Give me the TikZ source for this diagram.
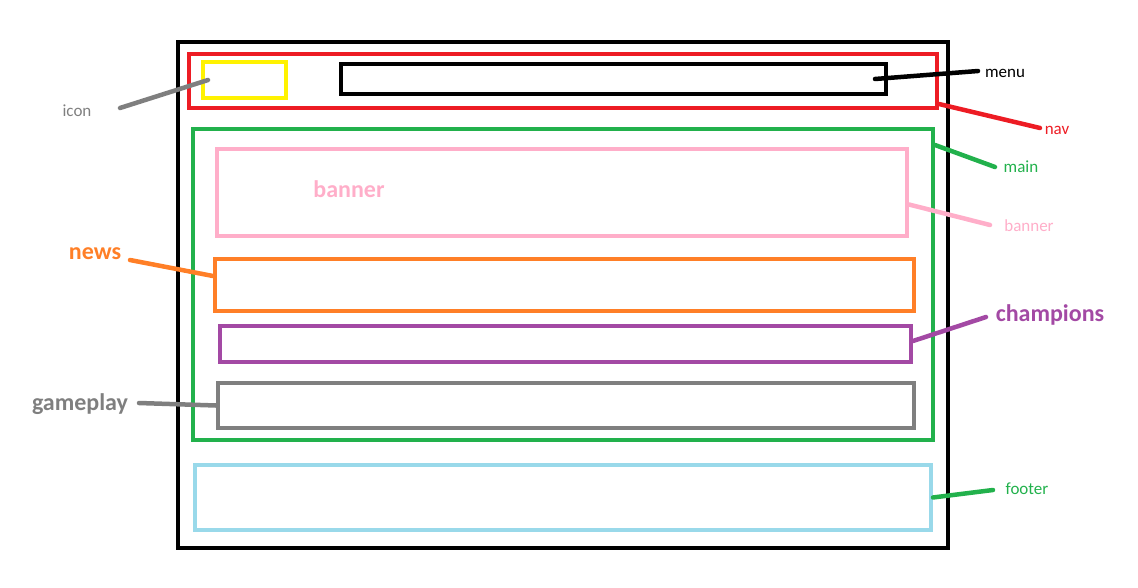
\documentclass[tikz,border=0pt]{standalone}
\usepackage{fontspec}
\setmainfont{Carlito}
\usetikzlibrary{positioning, calc}
\definecolor{paintred}{HTML}{ED1C24}
\definecolor{paintyellow}{HTML}{FFF200}
\definecolor{paintgreen}{HTML}{22B14C}
\definecolor{paintpink}{HTML}{FFAEC9}
\definecolor{paintorange}{HTML}{FF7F27}
\definecolor{paintpurple}{HTML}{A349A4}
\definecolor{paintgray}{HTML}{7F7F7F}
\definecolor{paintblue}{HTML}{99D9EA}

\begin{document}
\begin{tikzpicture}[x=1pt, y=-1pt,
  frame/.style={rectangle, draw=#1, line width=4pt, inner sep=0pt},
  lead/.style={draw=#1, line width=4.5pt, line cap=round},
  tag/.style={text=#1, inner sep=0pt, font=\fontsize{17}{20}\selectfont},
  bigtag/.style={text=#1, inner sep=0pt, font=\fontsize{24}{28}\selectfont\bfseries}
]
\useasboundingbox (0,0) rectangle (1138,587);
% boxes of the page
\node[frame=black, minimum width=770pt, minimum height=506pt] (page) at (563,295) {};
\node[frame=paintred, minimum width=748pt, minimum height=54pt] (nav) at (563,81) {};
\node[frame=paintyellow, minimum width=83pt, minimum height=36pt] (icon) at (244.5,80) {};
\node[frame=black, minimum width=545pt, minimum height=30pt] (menu) at (613.5,79) {};
\node[frame=paintgreen, minimum width=740pt, minimum height=311pt] (main) at (563,284.5) {};
\node[frame=paintpink, minimum width=690pt, minimum height=87pt] (banner) at (562,192.5) {};
\node[frame=paintorange, minimum width=699pt, minimum height=52pt] (news) at (564.5,285) {};
\node[frame=paintpurple, minimum width=691pt, minimum height=36pt] (champions) at (565.5,344) {};
\node[frame=paintgray, minimum width=696pt, minimum height=45pt] (gameplay) at (566,405.5) {};
\node[frame=paintblue, minimum width=736pt, minimum height=65pt] (footer) at (563,497.5) {};
\node[bigtag=paintpink] (bannertitle) at (349,189) {banner};
% labels
\node[tag=paintgray] (iconlbl) at (77,111) {icon};
\node[tag=black] (menulbl) at (1005,73) {menu};
\node[tag=paintred] (navlbl) at (1057,130) {nav};
\node[tag=paintgreen] (mainlbl) at (1021,167) {main};
\node[tag=paintpink] (bannerlbl) at (1029,226) {banner};
\node[bigtag=paintorange] (newslbl) at (95,254) {news};
\node[bigtag=paintpurple] (championslbl) at (1050,315) {champions};
\node[bigtag=paintgray] (gameplaylbl) at (80,404) {gameplay};
\node[tag=paintgreen] (footerlbl) at (1027,489) {footer};
% free ends of the leaders
\coordinate (iconpt) at (120,108);
\coordinate (menupt) at (978,71);
\coordinate (navpt) at (1040,128);
\coordinate (mainpt) at (995,167);
\coordinate (bannerpt) at (990,225);
\coordinate (newspt) at (130,260);
\coordinate (championspt) at (986,317);
\coordinate (gameplaypt) at (139,403);
\coordinate (footerpt) at (993,490);
% leaders
\draw[lead=paintgray] (iconpt) -- ([xshift=7pt]icon.west);
\draw[lead=black] ([xshift=-13pt]menu.east) -- (menupt);
\draw[lead=paintred] ([yshift=6pt]nav.south east) -- (navpt);
\draw[lead=paintgreen] ([yshift=-18pt]main.north east) -- (mainpt);
\draw[lead=paintpink] ([yshift=-12pt]banner.east) -- (bannerpt);
\draw[lead=paintorange] (newspt) -- ([yshift=9pt]news.west);
\draw[lead=paintpurple] ([yshift=3pt]champions.east) -- (championspt);
\draw[lead=paintgray] (gameplaypt) -- (gameplay.west);
\draw[lead=paintgreen] (footer.east) -- (footerpt);
\end{tikzpicture}
\end{document}
